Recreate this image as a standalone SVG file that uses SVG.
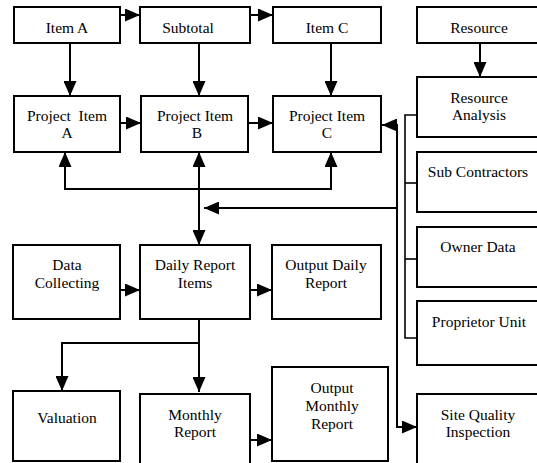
<svg xmlns="http://www.w3.org/2000/svg" width="537" height="463" viewBox="0 0 537 463">
  <style>
    .box { fill: #ffffff; stroke: #000000; stroke-width: 2; }
    .lbl { font-family: 'Liberation Serif', 'DejaVu Serif', serif; font-size: 15.5px; fill: #000000; text-anchor: middle; }
    .wire { fill: none; stroke: #000000; stroke-width: 2; }
    .thin { fill: none; stroke: #000000; stroke-width: 1.6; }
  </style>
  <defs>
    <marker id="head" viewBox="0 0 15 13" refX="15" refY="6.5" markerWidth="15" markerHeight="13" markerUnits="userSpaceOnUse" orient="auto-start-reverse">
      <path d="M0,0 L15,6.5 L0,13 Z" fill="#000000"/>
    </marker>
  </defs>
  <rect width="537" height="463" fill="#ffffff"/>

  <!-- connectors -->
  <g id="connectors">
    <line class="wire" x1="120" y1="15" x2="140" y2="15" marker-end="url(#head)"/>
    <line class="wire" x1="250" y1="15" x2="273" y2="15" marker-end="url(#head)"/>
    <line class="wire" x1="70" y1="43" x2="70" y2="96" marker-end="url(#head)"/>
    <line class="wire" x1="199" y1="43" x2="199" y2="96" marker-end="url(#head)"/>
    <line class="wire" x1="331" y1="43" x2="331" y2="96" marker-end="url(#head)"/>
    <line class="wire" x1="480" y1="43" x2="480" y2="77" marker-end="url(#head)"/>
    <line class="wire" x1="120" y1="123" x2="141" y2="123" marker-end="url(#head)"/>
    <line class="wire" x1="248" y1="123" x2="273" y2="123" marker-end="url(#head)"/>
    <!-- shared bus under the project items -->
    <polyline class="wire" points="65,152 65,189 331,189 331,152" marker-start="url(#head)" marker-end="url(#head)"/>
    <line class="wire" x1="199" y1="152" x2="199" y2="245" marker-start="url(#head)" marker-end="url(#head)"/>
    <line class="wire" x1="397" y1="208" x2="204" y2="208" marker-end="url(#head)"/>
    <!-- right-hand feed line -->
    <polyline class="wire" points="382,125 397,125 397,427 417,427" marker-start="url(#head)" marker-end="url(#head)"/>
    <!-- resource bracket -->
    <polyline class="thin" points="417,115 405,115 405,338 417,338"/>
    <line class="thin" x1="405" y1="183" x2="417" y2="183"/>
    <line class="thin" x1="405" y1="259" x2="417" y2="259"/>
    <line class="wire" x1="120" y1="290" x2="140" y2="290" marker-end="url(#head)"/>
    <line class="wire" x1="250" y1="290" x2="272" y2="290" marker-end="url(#head)"/>
    <line class="wire" x1="199" y1="319" x2="199" y2="392" marker-end="url(#head)"/>
    <polyline class="wire" points="199,343 62,343 62,391" marker-end="url(#head)"/>
    <line class="wire" x1="250" y1="440" x2="272" y2="440" marker-end="url(#head)"/>
  </g>

  <g id="item-a"><rect class="box" x="14" y="7" width="106" height="36"/><text class="lbl" x="67" y="33">Item A</text></g>
  <g id="subtotal"><rect class="box" x="140" y="7" width="110" height="36"/><text class="lbl" x="188" y="33">Subtotal</text></g>
  <g id="item-c"><rect class="box" x="273" y="7" width="108" height="36"/><text class="lbl" x="327" y="33">Item C</text></g>
  <g id="resource"><rect class="box" x="417" y="7" width="125" height="36"/><text class="lbl" x="479" y="33">Resource</text></g>

  <g id="project-item-a"><rect class="box" x="14" y="96" width="106" height="56"/><text class="lbl" x="67" y="121" xml:space="preserve">Project  Item</text><text class="lbl" x="67" y="138">A</text></g>
  <g id="project-item-b"><rect class="box" x="141" y="96" width="107" height="56"/><text class="lbl" x="195" y="121">Project Item</text><text class="lbl" x="197" y="138">B</text></g>
  <g id="project-item-c"><rect class="box" x="273" y="96" width="108" height="56"/><text class="lbl" x="327" y="121">Project Item</text><text class="lbl" x="327" y="138">C</text></g>
  <g id="resource-analysis"><rect class="box" x="417" y="77" width="125" height="60"/><text class="lbl" x="479" y="103">Resource</text><text class="lbl" x="479" y="120">Analysis</text></g>

  <g id="sub-contractors"><rect class="box" x="417" y="152" width="125" height="60"/><text class="lbl" x="478" y="177">Sub Contractors</text></g>
  <g id="owner-data"><rect class="box" x="417" y="227" width="125" height="60"/><text class="lbl" x="478" y="252">Owner Data</text></g>
  <g id="proprietor-unit"><rect class="box" x="417" y="301" width="125" height="64"/><text class="lbl" x="479" y="327">Proprietor Unit</text></g>

  <g id="data-collecting"><rect class="box" x="13" y="245" width="107" height="74"/><text class="lbl" x="67" y="270">Data</text><text class="lbl" x="67" y="288">Collecting</text></g>
  <g id="daily-report-items"><rect class="box" x="140" y="245" width="110" height="74"/><text class="lbl" x="195" y="270">Daily Report</text><text class="lbl" x="195" y="288">Items</text></g>
  <g id="output-daily-report"><rect class="box" x="272" y="245" width="109" height="74"/><text class="lbl" x="326" y="270">Output Daily</text><text class="lbl" x="326" y="288">Report</text></g>

  <g id="valuation"><rect class="box" x="13" y="391" width="107" height="70"/><text class="lbl" x="67" y="423">Valuation</text></g>
  <g id="monthly-report"><rect class="box" x="140" y="394" width="110" height="75"/><text class="lbl" x="195" y="420">Monthly</text><text class="lbl" x="195" y="437">Report</text></g>
  <g id="output-monthly-report"><rect class="box" x="272" y="367" width="116" height="94"/><text class="lbl" x="332" y="393">Output</text><text class="lbl" x="332" y="411">Monthly</text><text class="lbl" x="332" y="429">Report</text></g>
  <g id="site-quality-inspection"><rect class="box" x="417" y="394" width="125" height="75"/><text class="lbl" x="478" y="420">Site Quality</text><text class="lbl" x="478" y="437">Inspection</text></g>
</svg>
